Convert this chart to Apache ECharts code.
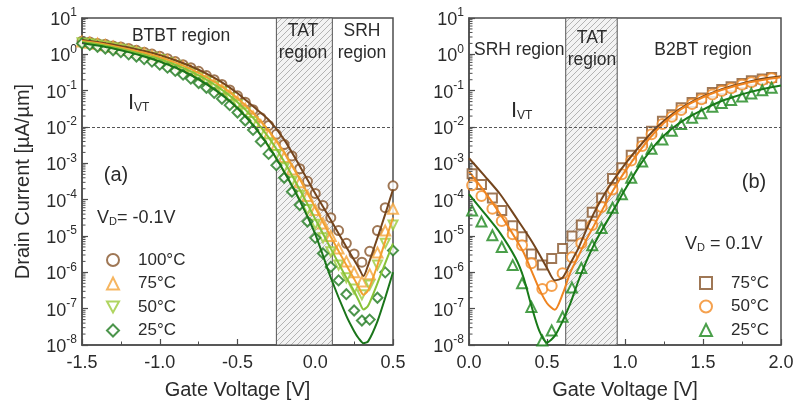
<!DOCTYPE html>
<html><head><meta charset="utf-8">
<script src="https://cdn.jsdelivr.net/npm/echarts@6/dist/echarts.min.js"></script>
<style>html,body{margin:0;padding:0;background:#fff}#c{width:795px;height:406px}</style>
</head><body><div id="c"></div>
<script>
// ---------- DATA ----------
// Panel (a): V_D = -0.1 V, measured points
const vL = [-1.5,-1.45,-1.4,-1.35,-1.3,-1.25,-1.2,-1.15,-1.1,-1.05,-1.0,-0.95,-0.9,-0.85,-0.8,-0.75,-0.7,-0.65,-0.6,-0.55,-0.5,-0.45,-0.4,-0.35,-0.3,-0.25,-0.2,-0.15,-0.1,-0.05,0.0,0.05,0.1,0.15,0.2,0.25,0.3,0.35,0.4,0.45,0.5];
const a100 = [2.3,2.2,2.0,1.9,1.7,1.6,1.45,1.29,1.15,1.02,0.89,0.76,0.63,0.52,0.43,0.34,0.26,0.20,0.148,0.105,0.072,0.048,0.030,0.018,0.011,6.3e-3,3.3e-3,1.6e-3,7.1e-4,3.2e-4,1.48e-4,6.9e-5,3.2e-5,1.41e-5,6.3e-6,3.2e-6,1.9e-6,3.8e-6,1.41e-5,6.0e-5,2.4e-4];
const a75 = [2.24,2.09,1.95,1.78,1.62,1.48,1.32,1.17,1.05,0.91,0.79,0.68,0.56,0.46,0.36,0.28,0.21,0.158,0.112,0.078,0.051,0.032,0.0195,0.0112,6.2e-3,3.2e-3,1.5e-3,6.8e-4,3.0e-4,1.26e-4,5.2e-5,2.2e-5,1.0e-5,4.5e-6,2.0e-6,1.0e-6,5.6e-7,8.9e-7,3.5e-6,1.41e-5,5.6e-5];
const a50 = [2.09,1.95,1.82,1.66,1.51,1.38,1.23,1.10,0.95,0.83,0.72,0.60,0.50,0.40,0.316,0.245,0.182,0.132,0.093,0.063,0.041,0.0245,0.0141,7.4e-3,3.7e-3,1.74e-3,7.6e-4,3.2e-4,1.32e-4,5.4e-5,2.1e-5,8.9e-6,3.7e-6,1.58e-6,7.1e-7,3.5e-7,2.4e-7,4.5e-7,1.58e-6,6.3e-6,2.0e-5];
const a25 = [2.0,1.82,1.62,1.45,1.29,1.15,1.0,0.87,0.74,0.63,0.52,0.43,0.35,0.275,0.214,0.162,0.120,0.087,0.060,0.040,0.025,0.0151,8.3e-3,4.0e-3,1.82e-3,8.9e-4,4.0e-4,1.66e-4,7.1e-5,2.5e-5,8.9e-6,3.3e-6,1.41e-6,6.0e-7,2.5e-7,8.9e-8,4.7e-8,5.0e-8,2.0e-7,1.0e-6,4.0e-6];
// Panel (a): model curves
const vLfit = [-1.5,-1.4,-1.3,-1.2,-1.1,-1.0,-0.9,-0.8,-0.7,-0.6,-0.5,-0.4,-0.3,-0.2,-0.1,0.0,0.1,0.2,0.25,0.28,0.31,0.34,0.4,0.45,0.5];
const a100fit = [2.5,2.2,1.86,1.55,1.23,0.95,0.69,0.47,0.295,0.17,0.085,0.037,0.0158,4.5e-3,8.5e-4,1.48e-4,2.75e-5,5.0e-6,2.2e-6,1.32e-6,7.9e-7,1.58e-6,8.9e-6,4.0e-5,1.9e-4];
const a75fit = [2.34,2.04,1.70,1.38,1.10,0.83,0.59,0.39,0.234,0.129,0.062,0.0245,8.1e-3,2.0e-3,3.7e-4,6.0e-5,9.5e-6,1.58e-6,6.6e-7,3.8e-7,2.4e-7,3.2e-7,1.58e-6,7.1e-6,3.2e-5];
const a50fit = [2.19,1.91,1.58,1.26,0.98,0.74,0.52,0.34,0.20,0.105,0.048,0.0178,5.2e-3,1.12e-3,1.9e-4,2.95e-5,4.5e-6,7.1e-7,3.0e-7,1.66e-7,9.5e-8,1.2e-7,5.0e-7,1.78e-6,6.3e-6];
const a25fit = [2.04,1.74,1.45,1.15,0.87,0.63,0.43,0.27,0.151,0.076,0.033,0.0112,2.95e-3,5.9e-4,9.5e-5,1.12e-5,7.1e-7,6.3e-8,2.4e-8,1.51e-8,1.12e-8,1.26e-8,4.5e-8,2.0e-7,1.0e-6];
// Panel (b): V_D = 0.1 V, measured points
const vR = [0.02,0.08,0.15,0.21,0.28,0.34,0.40,0.47,0.53,0.60,0.66,0.72,0.79,0.85,0.92,0.98,1.04,1.11,1.17,1.24,1.30,1.36,1.43,1.49,1.56,1.62,1.68,1.75,1.81,1.88,1.94];
const b75 = [5.2e-4,2.6e-4,1.12e-4,5.0e-5,1.9e-5,9.5e-6,3.2e-6,1.58e-6,2.4e-6,4.5e-6,1.0e-5,2.0e-5,4.5e-5,1.12e-4,3.8e-4,7.6e-4,1.66e-3,3.8e-3,7.6e-3,0.0145,0.0219,0.034,0.047,0.063,0.089,0.107,0.129,0.158,0.186,0.209,0.229];
const b50 = [2.5e-4,1.26e-4,5.6e-5,2.6e-5,1.12e-5,5.6e-6,1.78e-6,3.5e-7,4.2e-7,9.5e-7,2.6e-6,6.3e-6,2.0e-5,6.3e-5,1.9e-4,5.0e-4,1.2e-3,3.0e-3,6.3e-3,0.012,0.019,0.0295,0.043,0.058,0.078,0.098,0.117,0.145,0.17,0.195,0.219];
const b25 = [5.0e-5,2.5e-5,1.05e-5,5.0e-6,1.58e-6,5.0e-7,1.12e-7,1.32e-8,2.5e-8,6.0e-8,3.8e-7,1.32e-6,5.6e-6,1.66e-5,6.0e-5,1.41e-4,4.0e-4,1.12e-3,2.5e-3,4.5e-3,7.9e-3,0.012,0.018,0.024,0.036,0.046,0.055,0.069,0.083,0.102,0.120];
// Panel (b): model curves
const vRfit = [0,0.1,0.2,0.3,0.35,0.4,0.45,0.5,0.55,0.6,0.65,0.7,0.75,0.8,0.85,0.9,0.95,1.0,1.1,1.2,1.3,1.4,1.5,1.6,1.7,1.8,1.9,2.0];
const b75fit = [1.38e-3,4.5e-4,1.41e-4,3.3e-5,1.58e-5,7.4e-6,3.2e-6,1.32e-6,6.0e-7,7.1e-7,1.78e-6,4.5e-6,1.41e-5,4.2e-5,1.05e-4,2.34e-4,4.8e-4,9.5e-4,3.2e-3,9.5e-3,0.0219,0.042,0.069,0.102,0.138,0.178,0.219,0.251];
const b50fit = [5.9e-4,1.66e-4,4.0e-5,8.3e-6,3.5e-6,1.12e-6,3.5e-7,1.41e-7,9.3e-8,2.5e-7,1.0e-6,2.7e-6,7.6e-6,1.9e-5,4.8e-5,1.2e-4,2.8e-4,6.0e-4,2.4e-3,7.9e-3,0.020,0.040,0.066,0.098,0.132,0.17,0.204,0.234];
const b25fit = [1.41e-4,4.2e-5,1.2e-5,2.4e-6,7.1e-7,1.2e-7,2.5e-8,1.17e-8,1.78e-8,4.5e-8,1.41e-7,5.6e-7,1.9e-6,5.6e-6,1.41e-5,3.3e-5,7.9e-5,1.9e-4,9.5e-4,3.5e-3,8.9e-3,0.0178,0.030,0.048,0.068,0.091,0.115,0.138];
// Regions, reference level, labels
const regionA = [-0.25, 0.11];   // TAT region, panel (a)
const regionB = [0.62, 0.95];    // TAT region, panel (b)
const iVT = 1e-2;
const legendA = {a100:'100°C', a75:'75°C', a50:'50°C', a25:'25°C'};
const legendB = {b75:'75°C', b50:'50°C', b25:'25°C'};
const yExpMin = -8, yExpMax = 1;
const minorMult = [2,3,4,5,6,7,8,9];

// ---------- CHART ----------
const FONT = '"Liberation Sans", Arial, Helvetica, sans-serif';
const AX = '#4d4d4d', TXT = '#2b2b2b';
const pairs = (xs, ys) => xs.map((x, i) => [x, ys[i]]);
const minorY = [];
for (let e = yExpMin; e < yExpMax; e++) minorMult.forEach(k => minorY.push(k * Math.pow(10, e)));

function hatch() {
  const s = 6, c = document.createElement('canvas');
  c.width = s; c.height = s;
  const g = c.getContext('2d');
  g.fillStyle = '#f3f3f3'; g.fillRect(0, 0, s, s);
  g.strokeStyle = '#b3b3b3'; g.lineWidth = 1;
  g.beginPath();
  g.moveTo(0, s); g.lineTo(s, 0);
  g.moveTo(-1, 1); g.lineTo(1, -1);
  g.moveTo(s - 1, s + 1); g.lineTo(s + 1, s - 1);
  g.stroke();
  return c;
}
const hatchImg = hatch();

function xAxisOpt(gi, min, max) {
  return {
    type: 'value', gridIndex: gi, min, max, interval: 0.5,
    axisLine: { show: true, onZero: false, lineStyle: { color: AX, width: 1.5 } },
    axisTick: { show: true, inside: true, length: 6, lineStyle: { color: AX, width: 1.2 } },
    minorTick: { show: true, splitNumber: 2, length: 3.5, lineStyle: { color: AX, width: 1 } },
    splitLine: { show: false }, minorSplitLine: { show: false },
    axisLabel: { margin: 9, fontSize: 18, fontFamily: FONT, color: TXT, formatter: v => v.toFixed(1) },
    name: 'Gate Voltage [V]', nameLocation: 'middle', nameGap: 35,
    nameTextStyle: { fontSize: 20, fontFamily: FONT, color: TXT }
  };
}
function yAxisOpt(gi, withName) {
  return {
    type: 'log', logBase: 10, gridIndex: gi, min: 1e-8, max: 10, splitNumber: 9,
    axisLine: { show: true, onZero: false, lineStyle: { color: AX, width: 1.5 } },
    axisTick: { show: true, inside: true, length: 6, lineStyle: { color: AX, width: 1.2 } },
    splitLine: { show: false },
    axisLabel: {
      margin: 5,
      formatter: v => '{b|10}{s|' + Math.round(Math.log10(v)) + '}',
      rich: {
        b: { fontSize: 18, lineHeight: 22, fontFamily: FONT, color: TXT, verticalAlign: 'bottom' },
        s: { fontSize: 12, lineHeight: 12, fontFamily: FONT, color: TXT, verticalAlign: 'top' }
      }
    },
    name: withName ? 'Drain Current [µA/µm]' : '', nameLocation: 'middle', nameGap: 49,
    nameTextStyle: { fontSize: 20, fontFamily: FONT, color: TXT }
  };
}
function regionSeries(gi, reg) {
  return {
    type: 'line', xAxisIndex: gi, yAxisIndex: gi, data: [], z: 1, silent: true,
    markArea: {
      silent: true,
      itemStyle: { color: { image: hatchImg, repeat: 'repeat' }, borderColor: '#555', borderWidth: 1 },
      label: { show: false },
      data: [[{ xAxis: reg[0], yAxis: 1e-8 }, { xAxis: reg[1], yAxis: 10 }]]
    },
    markLine: {
      silent: true, symbol: ['none', 'none'], label: { show: false },
      lineStyle: { color: '#555', width: 1, type: [3, 2] },
      data: [{ yAxis: iVT }]
    }
  };
}
function minorTicks(gi, xAt) {
  return {
    type: 'custom', xAxisIndex: gi, yAxisIndex: gi, silent: true, z: 6, clip: false,
    data: minorY.map(v => [xAt, v]),
    renderItem: (p, api) => {
      const pt = api.coord([api.value(0), api.value(1)]);
      return { type: 'line', shape: { x1: pt[0], y1: pt[1], x2: pt[0] + 3.5, y2: pt[1] }, style: { stroke: AX, lineWidth: 1 } };
    }
  };
}
function pts(name, gi, xs, ys, symbol, color, size) {
  return { name, type: 'scatter', xAxisIndex: gi, yAxisIndex: gi, data: pairs(xs, ys), symbol, symbolSize: size,
    itemStyle: { color, borderColor: color, borderWidth: 2 }, z: 3 };
}
function fit(gi, xs, ys, color) {
  return { type: 'line', xAxisIndex: gi, yAxisIndex: gi, data: pairs(xs, ys), showSymbol: false, symbol: 'none',
    smooth: 0.25, lineStyle: { color, width: 2 }, z: 4, silent: true };
}

const C = { br: '#87552a', brL: '#74451d', or: '#f4a43a', orL: '#f2a030', lg: '#9ccb3a', lgL: '#88c238', dg: '#1f7a1f', dgL: '#1a751a',
            or2: '#f38a22', or2L: '#ef8420', dg2: '#1d871d', dg2L: '#187a18' };

const T = (x, y, text, size, align) => ({ type: 'text', x, y, z: 20, silent: true,
  style: { text, fill: TXT, fontSize: size, fontFamily: FONT, align: align || 'center', verticalAlign: 'middle' } });
const R = (x, y, text, rich) => ({ type: 'text', x, y, z: 20, silent: true,
  style: { text, fill: TXT, fontFamily: FONT, align: 'left', verticalAlign: 'middle', rich } });
const ivtRich = { i: { fontSize: 22, lineHeight: 22, fontFamily: FONT, fill: TXT, verticalAlign: 'bottom' },
                  s: { fontSize: 12, lineHeight: 6, fontFamily: FONT, fill: TXT, verticalAlign: 'bottom' } };
const vdRich = { v: { fontSize: 18, lineHeight: 20, fontFamily: FONT, fill: TXT, verticalAlign: 'bottom' },
                 s: { fontSize: 11, lineHeight: 4, fontFamily: FONT, fill: TXT, verticalAlign: 'bottom' } };

const downTri = 'path://M0,0 L10,0 L5,9 Z';
const a50series = pts('a50', 0, vL, a50, downTri, C.lg, 9);
a50series.itemStyle = { color: '#fff', borderColor: C.lg, borderWidth: 2 };

const RS = 17.5; // region label size
const option = {
  animation: false,
  backgroundColor: '#fff',
  textStyle: { fontFamily: FONT },
  grid: [
    { left: 82, top: 18, width: 311, height: 327, show: true, borderColor: AX, borderWidth: 1.5, containLabel: false, outerBoundsMode: 'none' },
    { left: 469, top: 18, width: 312, height: 327, show: true, borderColor: AX, borderWidth: 1.5, containLabel: false, outerBoundsMode: 'none' }
  ],
  xAxis: [xAxisOpt(0, -1.5, 0.5), xAxisOpt(1, 0, 2)],
  yAxis: [yAxisOpt(0, true), yAxisOpt(1, false)],
  legend: [
    { orient: 'vertical', left: 101, top: 246, itemWidth: 12, itemHeight: 12, itemGap: 5.5, selectedMode: false,
      data: Object.keys(legendA), formatter: n => legendA[n],
      textStyle: { fontSize: 17, lineHeight: 18, fontFamily: FONT, color: TXT, padding: [0, 0, 0, 14] } },
    { orient: 'vertical', left: 694, top: 269, itemWidth: 12, itemHeight: 12, itemGap: 5.5, selectedMode: false,
      data: Object.keys(legendB), formatter: n => legendB[n],
      textStyle: { fontSize: 17, lineHeight: 18, fontFamily: FONT, color: TXT, padding: [0, 0, 0, 14] } }
  ],
  series: [
    regionSeries(0, regionA), regionSeries(1, regionB),
    minorTicks(0, -1.5), minorTicks(1, 0),
    pts('a100', 0, vL, a100, 'emptyCircle', C.br, 9),
    pts('a75', 0, vL, a75, 'emptyTriangle', C.or, 10),
    a50series,
    pts('a25', 0, vL, a25, 'emptyDiamond', C.dg, 10),
    fit(0, vLfit, a100fit, C.brL), fit(0, vLfit, a75fit, C.orL), fit(0, vLfit, a50fit, C.lgL), fit(0, vLfit, a25fit, C.dgL),
    pts('b75', 1, vR, b75, 'emptyRect', C.br, 9),
    pts('b50', 1, vR, b50, 'emptyCircle', C.or2, 10),
    pts('b25', 1, vR, b25, 'emptyTriangle', C.dg2, 10),
    fit(1, vRfit, b75fit, C.brL), fit(1, vRfit, b50fit, C.or2L), fit(1, vRfit, b25fit, C.dg2L)
  ],
  graphic: [
    T(181, 36, 'BTBT region', RS), T(303, 31, 'TAT', RS), T(303, 53, 'region', RS),
    T(362, 31, 'SRH', RS), T(362, 53, 'region', RS),
    R(128, 103, '{i|I}{s|VT}', ivtRich), T(116, 175, '(a)', 20),
    R(97, 217, '{v|V}{s|D}{v|= -0.1V}', vdRich),
    T(474, 50, 'SRH region', RS, 'left'), T(592, 38, 'TAT', RS), T(592, 60, 'region', RS),
    T(703, 50, 'B2BT region', RS), R(511, 111, '{i|I}{s|VT}', ivtRich), T(754, 182, '(b)', 20),
    R(685, 243, '{v|V}{s|D}{v| = 0.1V}', vdRich)
  ]
};
const chart = echarts.init(document.getElementById('c'));
chart.setOption(option);
</script></body></html>
